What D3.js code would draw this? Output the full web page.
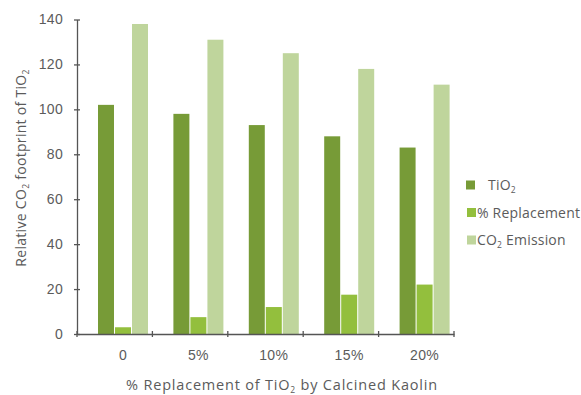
<!DOCTYPE html>
<html>
<head>
<meta charset="utf-8">
<script src="https://cdn.jsdelivr.net/npm/d3@7"></script>
<style>
  html, body { margin: 0; padding: 0; background: #fff; overflow: hidden; }
  svg { display: block; font-family: "Open Sans", "DejaVu Sans", sans-serif; }
</style>
</head>
<body>
<svg id="chart" width="581" height="395"></svg>
<script>
// Replacement levels of TiO2 (x categories)
const categories = ["0", "5%", "10%", "15%", "20%"];
// Series values, relative CO2 footprint
const tio2Values = [102, 98, 93, 88, 83];
const replacementValues = [3, 7.5, 12, 17.5, 22];
const emissionValues = [138, 131, 125, 118, 111];
// Y axis ticks
const yTicks = [0, 20, 40, 60, 80, 100, 120, 140];

const seriesKeys = ["tio2", "replacement", "emission"];
const colors = { tio2: "#779b37", replacement: "#93bf3d", emission: "#bfd59c" };

const rows = categories.map((c, i) => ({
  cat: c,
  tio2: tio2Values[i],
  replacement: replacementValues[i],
  emission: emissionValues[i]
}));

const svg = d3.select("#chart");
const axisColor = "#555";
const textColor = "#5b5b5b";

const x = d3.scaleBand().domain(categories).range([77, 454]).padding(0);
const y = d3.scaleLinear().domain([0, 140]).range([334, 19.5]);

// Bars sit right of the band centre, as in the original layout
const groupStart = 21, groupEnd = 71;
const x1 = d3.scaleBand().domain(seriesKeys).range([groupStart, groupEnd]).paddingInner(0.06);

const groups = svg.append("g").selectAll("g")
  .data(rows).join("g")
  .attr("transform", d => `translate(${x(d.cat)},0)`);

groups.selectAll("rect")
  .data(d => seriesKeys.map(k => ({ key: k, value: d[k] })))
  .join("rect")
  .attr("x", d => x1(d.key))
  .attr("width", x1.bandwidth())
  .attr("y", d => y(d.value))
  .attr("height", d => y(0) - y(d.value))
  .attr("fill", d => colors[d.key]);

// Y axis with crossing tick marks
const gy = svg.append("g").attr("transform", "translate(77,0)")
  .call(d3.axisLeft(y).tickValues(yTicks).tickSize(3).tickSizeOuter(0).tickPadding(11));
gy.select(".domain").attr("stroke", axisColor).attr("stroke-width", 1.3);
gy.selectAll(".tick line").attr("x1", 3).attr("x2", -3).attr("stroke", axisColor).attr("stroke-width", 1.3);
gy.selectAll(".tick text").attr("fill", textColor).style("font-size", "14px").style("letter-spacing", "0.3px");

// X axis: tick marks at band boundaries, labels under each bar group
const labelOffset = (groupStart + groupEnd) / 2 - x.bandwidth() / 2;
const gx = svg.append("g").attr("transform", "translate(0,334)")
  .call(d3.axisBottom(x).tickSize(3).tickSizeOuter(0).tickPadding(13));
gx.select(".domain").attr("stroke", axisColor).attr("stroke-width", 1.3);
gx.selectAll(".tick line")
  .attr("x1", -x.bandwidth() / 2).attr("x2", -x.bandwidth() / 2)
  .attr("y1", -3).attr("y2", 3)
  .attr("stroke", axisColor).attr("stroke-width", 1.3);
gx.selectAll(".tick text").attr("x", labelOffset).attr("fill", textColor)
  .style("font-size", "14px").style("letter-spacing", "0.4px");
gx.append("line")
  .attr("x1", x.range()[1]).attr("x2", x.range()[1])
  .attr("y1", -3).attr("y2", 3)
  .attr("stroke", axisColor).attr("stroke-width", 1.3);

// Axis titles
const xTitle = svg.append("text")
  .attr("x", 282).attr("y", 390)
  .attr("text-anchor", "middle")
  .attr("fill", textColor).style("font-size", "14.5px").style("letter-spacing", "0.8px");
xTitle.append("tspan").text("% Replacement of TiO");
xTitle.append("tspan").text("2").attr("font-size", "8.5px").attr("dy", 3);
xTitle.append("tspan").text(" by Calcined Kaolin").attr("dy", -3);

const yTitle = svg.append("text")
  .attr("transform", "translate(26,168) rotate(-90)")
  .attr("text-anchor", "middle")
  .attr("fill", textColor).style("font-size", "14px").style("letter-spacing", "0.3px");
yTitle.append("tspan").text("Relative CO");
yTitle.append("tspan").text("2").attr("font-size", "8.5px").attr("dy", 3);
yTitle.append("tspan").text(" footprint of TiO").attr("dy", -3);
yTitle.append("tspan").text("2").attr("font-size", "8.5px").attr("dy", 3);

// Legend
const legendItems = [
  { key: "tio2", parts: [["TiO", 0], ["2", 1]], sx: 466, tx: 488, y: 185 },
  { key: "replacement", parts: [["% Replacement", 0]], sx: 467, tx: 477, y: 212.5 },
  { key: "emission", parts: [["CO", 0], ["2", 1], [" Emission", 0]], sx: 467, tx: 477, y: 240 }
];
const lg = svg.append("g");
legendItems.forEach(it => {
  lg.append("rect")
    .attr("x", it.sx).attr("y", it.y - 4.5)
    .attr("width", 9).attr("height", 9)
    .attr("fill", colors[it.key]);
  const t = lg.append("text")
    .attr("x", it.tx).attr("y", it.y + 5)
    .attr("fill", textColor).style("font-size", "14px").style("letter-spacing", "0.2px");
  let sub = false;
  it.parts.forEach(([s, isSub]) => {
    const sp = t.append("tspan").text(s);
    if (isSub && !sub) { sp.attr("font-size", "8.5px").attr("dy", 3); sub = true; }
    else if (!isSub && sub) { sp.attr("dy", -3); sub = false; }
  });
});
</script>
</body>
</html>
